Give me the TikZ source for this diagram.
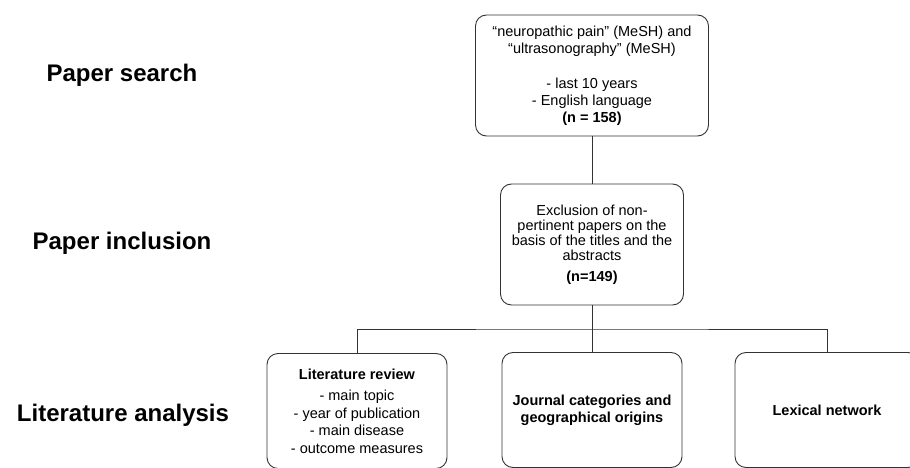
\documentclass[tikz,border=0pt]{standalone}
\usepackage{fontspec}
\setmainfont{Liberation Sans}
\begin{document}
\begin{tikzpicture}[x=1pt, y=-1pt,
        box/.style={draw=black!80, line width=0.9pt, rounded corners=11pt, align=center, inner sep=0pt, font=\fontsize{14.5}{17}\selectfont},
        stage/.style={font=\fontsize{24}{28}\selectfont\bfseries},
        link/.style={draw=black!80, line width=0.9pt}]
        \useasboundingbox (0,0) rectangle (910,468);
        \clip (0,0) rectangle (910,468);
        % stage labels
        \node[stage] (search) at (122,75) {Paper search};
        \node[stage] (inclusion) at (122,243) {Paper inclusion};
        \node[stage] (analysis) at (123,415) {Literature analysis};
        % boxes
        \node[box, minimum width=233pt, minimum height=121pt] (query) at (592,75.5) {“neuropathic pain” (MeSH) and\\“ultrasonography” (MeSH)\\[18pt]- last 10 years\\- English language\\\textbf{(n = 158)}};
        \node[box, minimum width=183pt, minimum height=121pt, font=\fontsize{14.5}{15}\selectfont] (excl) at (592,244.5) {Exclusion of non-\\pertinent papers on the\\basis of the titles and the\\abstracts\\[6pt]\textbf{(n=149)}};
        \node[box, minimum width=180pt, minimum height=115pt, font=\fontsize{14.5}{17.5}\selectfont] (review) at (357,411) {\textbf{Literature review}\\[4pt]- main topic\\- year of publication\\- main disease\\- outcome measures};
        \node[box, minimum width=180pt, minimum height=115pt] (journal) at (592,410) {\textbf{Journal categories and}\\\textbf{geographical origins}};
        \node[box, minimum width=184pt, minimum height=115pt] (lexical) at (827,410) {\textbf{Lexical network}};
        \coordinate (bus) at (592,329);
        % connectors
        \draw[link] (query) -- (excl);
        \draw[link] (excl) -- (journal);
        \draw[link] (review.north) |- (bus) -| (lexical.north);
\end{tikzpicture}
\end{document}
